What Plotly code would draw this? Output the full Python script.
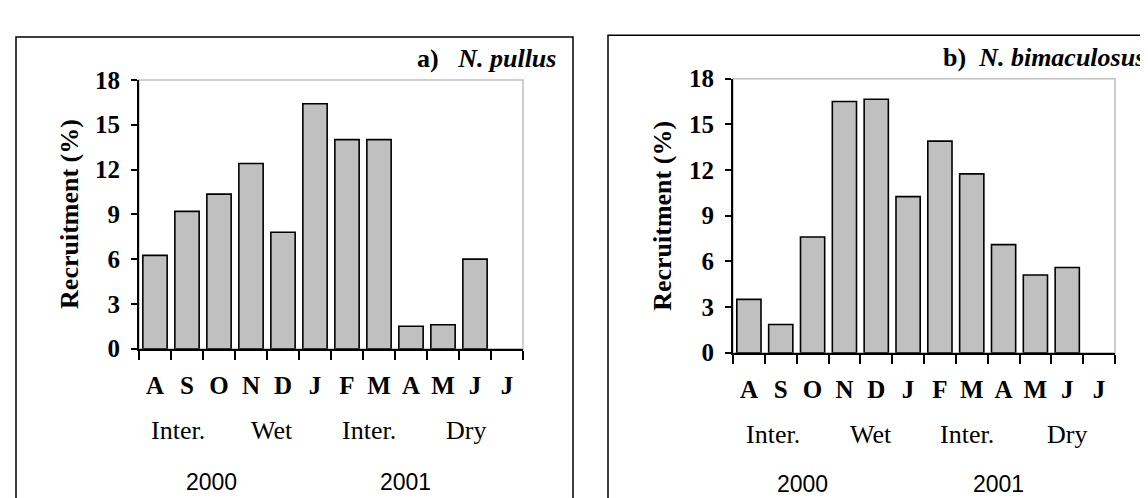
import plotly.graph_objects as go

# recruitment per month, Aug 2000 - Jul 2001
months = ["A", "S", "O", "N", "D", "J", "F", "M", "A", "M", "J", "J"]
pullus = [6.25, 9.2, 10.35, 12.4, 7.8, 16.4, 14.0, 14.0, 1.5, 1.6, 6.0, None]
bimaculosus = [3.5, 1.85, 7.6, 16.5, 16.65, 10.25, 13.9, 11.75, 7.1, 5.1, 5.6, None]
y_ticks = [0, 3, 6, 9, 12, 15, 18]

seasons = ["Inter.", "Wet", "Inter.", "Dry"]
season_pos_a = [0.72, 3.67, 6.68, 9.72]
season_pos_b = [0.77, 3.84, 6.85, 10.0]
years = ["2000", "2001"]
year_pos_a = [1.77, 7.83]
year_pos_b = [1.69, 7.83]

W, H = 1148, 498
SERIF = "Liberation Serif, Times New Roman, serif"
SANS = "Liberation Sans Narrow, Arial Narrow, Liberation Sans, Arial, sans-serif"


def px(x):
    return x / W


def py(y):
    return 1 - y / H


fig = go.Figure()

panels = [
    dict(vals=pullus, sfx="", xd=(131, 515), yd=(346.5, 62.3),
         title="<b>a)   <i>N. pullus</i></b>", tx=550, tanchor="right", ty=40,
         ytitle_x=62, ytitle_y=204, sp=season_pos_a, yp=year_pos_a,
         season_y=433, year_y=487, box=(8, 565, 17)),
    dict(vals=bimaculosus, sfx="2", xd=(725, 1107), yd=(350.7, 61),
         title="<b>b)  <i>N. bimaculosus</i></b>", tx=933, tanchor="left", ty=39,
         ytitle_x=655, ytitle_y=206, sp=season_pos_b, yp=year_pos_b,
         season_y=437, year_y=490, box=(600, 1200, 15)),
]

annotations = []
shapes = []
for p in panels:
    xa = "x" + p["sfx"]
    ya = "y" + p["sfx"]
    fig.add_trace(go.Bar(
        x=list(range(len(months))),
        y=p["vals"],
        width=0.76,
        marker=dict(color="#c0c0c0", line=dict(color="black", width=1.6)),
        xaxis=xa, yaxis=ya,
        showlegend=False,
        hovertemplate="%{y}<extra></extra>",
    ))

    fig.layout["xaxis" + p["sfx"]] = dict(
        domain=[px(p["xd"][0]), px(p["xd"][1])],
        anchor=ya,
        range=[-0.5, 11.5],
        tickmode="array",
        tickvals=list(range(len(months))),
        ticktext=months,
        ticks="",
        ticklabelstandoff=13,
        tickfont=dict(family=SERIF, size=25, color="black", weight="bold"),
        minor=dict(tickmode="array", tickvals=[i - 0.5 for i in range(13)],
                   ticks="outside", ticklen=9, tickwidth=1.6, tickcolor="black",
                   showgrid=False),
        showline=True, linecolor="black", linewidth=2,
        showgrid=False, zeroline=False, fixedrange=True,
    )
    fig.layout["yaxis" + p["sfx"]] = dict(
        domain=[py(p["yd"][0]), py(p["yd"][1])],
        anchor=xa,
        range=[0, 18],
        tickmode="array",
        tickvals=y_ticks,
        ticks="outside", ticklen=6, tickwidth=1.6, tickcolor="black",
        ticklabelstandoff=6,
        tickfont=dict(family=SERIF, size=25, color="black", weight="bold"),
        showline=True, linecolor="black", linewidth=2,
        showgrid=False, zeroline=False, fixedrange=True,
    )

    # light grey plot frame (top/right show through)
    shapes.append(dict(type="rect", xref=xa + " domain", yref=ya + " domain",
                       x0=0, x1=1, y0=0, y1=1, layer="below",
                       line=dict(color="#c0c0c0", width=1.5)))
    # outer panel border
    bx0, bx1, by = p["box"]
    shapes.append(dict(type="rect", xref="paper", yref="paper",
                       x0=px(bx0), x1=px(bx1), y0=-0.1, y1=py(by),
                       line=dict(color="black", width=1.5)))

    annotations.append(dict(text=p["title"], xref="paper", yref="paper",
                            x=px(p["tx"]), y=py(p["ty"]), xanchor=p["tanchor"],
                            yanchor="middle", showarrow=False,
                            font=dict(family=SERIF, size=26, color="black")))
    annotations.append(dict(text="<b>Recruitment (%)</b>", xref="paper", yref="paper",
                            x=px(p["ytitle_x"]), y=py(p["ytitle_y"]), textangle=-90,
                            xanchor="center", yanchor="middle", showarrow=False,
                            font=dict(family=SERIF, size=26, color="black")))
    for name, pos in zip(seasons, p["sp"]):
        annotations.append(dict(text=name, xref=xa, yref="paper", x=pos,
                                y=py(p["season_y"]), xanchor="center", yanchor="middle",
                                showarrow=False,
                                font=dict(family=SERIF, size=26, color="black")))
    for name, pos in zip(years, p["yp"]):
        annotations.append(dict(text=name, xref=xa, yref="paper", x=pos,
                                y=py(p["year_y"]), xanchor="center", yanchor="middle",
                                showarrow=False,
                                font=dict(family=SANS, size=23, color="black")))

fig.update_layout(
    width=W, height=H, autosize=False,
    margin=dict(l=0, r=0, t=0, b=0),
    paper_bgcolor="white", plot_bgcolor="white",
    bargap=0.24,
    shapes=shapes,
    annotations=annotations,
)

fig.write_html("out.html")
